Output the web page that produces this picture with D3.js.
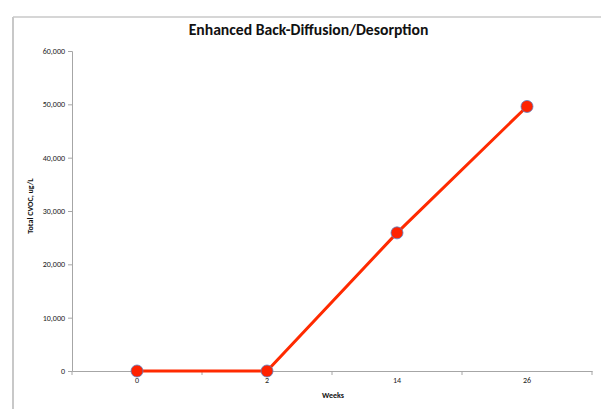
<!DOCTYPE html>
<html><head><meta charset="utf-8">
<script src="https://cdn.jsdelivr.net/npm/d3@7"></script>
<style>body{margin:0;background:#fff}svg{display:block}</style>
</head><body>
<script>
const categories = ["0", "2", "14", "26"];
const values = [0, 0, 25900, 49600];
const yTicks = [0, 10000, 20000, 30000, 40000, 50000, 60000];
const title = "Enhanced Back-Diffusion/Desorption";
const xTitle = "Weeks";
const yTitle = "Total CVOC, ug/L";

const W = 601, H = 409;
const svg = d3.select("body").append("svg").attr("width", W).attr("height", H);
const font = "Calibri, Carlito, 'Open Sans', 'Liberation Sans', sans-serif";

// outer frame
svg.append("line").attr("x1", 13).attr("x2", 13).attr("y1", 17).attr("y2", 409).attr("stroke", "#c8c8c8").attr("stroke-width", 2);
svg.append("line").attr("x1", 13).attr("x2", 601).attr("y1", 17).attr("y2", 17).attr("stroke", "#c8c8c8").attr("stroke-width", 1.5);

const x = d3.scaleBand().domain(categories).range([72, 592]).padding(0);
const y = d3.scaleLinear().domain([0, 60000]).range([371, 51]);

// y axis
const ya = svg.append("g").attr("transform", "translate(72,0)")
  .call(d3.axisLeft(y).tickValues(yTicks).tickFormat(d3.format(",")).tickSizeOuter(0).tickSize(4).tickPadding(3));
ya.select(".domain").attr("stroke", "#a6a6a6");
ya.selectAll(".tick line").attr("stroke", "#a6a6a6");
ya.selectAll("text").attr("font-family", font).attr("font-size", 8).attr("fill", "#222");

// x axis
const xa = svg.append("g").attr("transform", "translate(0,371)")
  .call(d3.axisBottom(x).tickSize(0).tickPadding(6).tickSizeOuter(0));
xa.select(".domain").attr("stroke", "#a6a6a6");
xa.selectAll("text").attr("font-family", font).attr("font-size", 8).attr("fill", "#222");
// category boundary ticks
const bounds = categories.map(c => x(c)).concat([x.range()[1]]);
xa.selectAll(".bt").data(bounds).enter().append("line")
  .attr("x1", d => d).attr("x2", d => d).attr("y1", 0).attr("y2", 4).attr("stroke", "#a6a6a6");

// line
const line = d3.line().x((d, i) => x(categories[i]) + x.bandwidth() / 2).y(d => y(d));
svg.append("path").datum(values).attr("d", line).attr("fill", "none").attr("stroke", "#ff2a00").attr("stroke-width", 3);

// markers
svg.selectAll(".pt").data(values).enter().append("circle")
  .attr("cx", (d, i) => x(categories[i]) + x.bandwidth() / 2).attr("cy", d => y(d))
  .attr("r", 6).attr("fill", "#ff2200").attr("stroke", "#5a7fc0").attr("stroke-width", 0.8);

// titles
svg.append("text").attr("x", 308.5).attr("y", 34.5).attr("text-anchor", "middle")
  .attr("font-family", font).attr("font-weight", "bold").attr("font-size", 15.7).attr("fill", "#111").text(title);
svg.append("text").attr("x", 333).attr("y", 398).attr("text-anchor", "middle")
  .attr("font-family", font).attr("font-weight", "bold").attr("font-size", 8).attr("fill", "#111").text(xTitle);
svg.append("text").attr("transform", "translate(33,206) rotate(-90)").attr("text-anchor", "middle")
  .attr("font-family", font).attr("font-weight", "bold").attr("font-size", 8).attr("fill", "#111").text(yTitle);
</script>
</body></html>
